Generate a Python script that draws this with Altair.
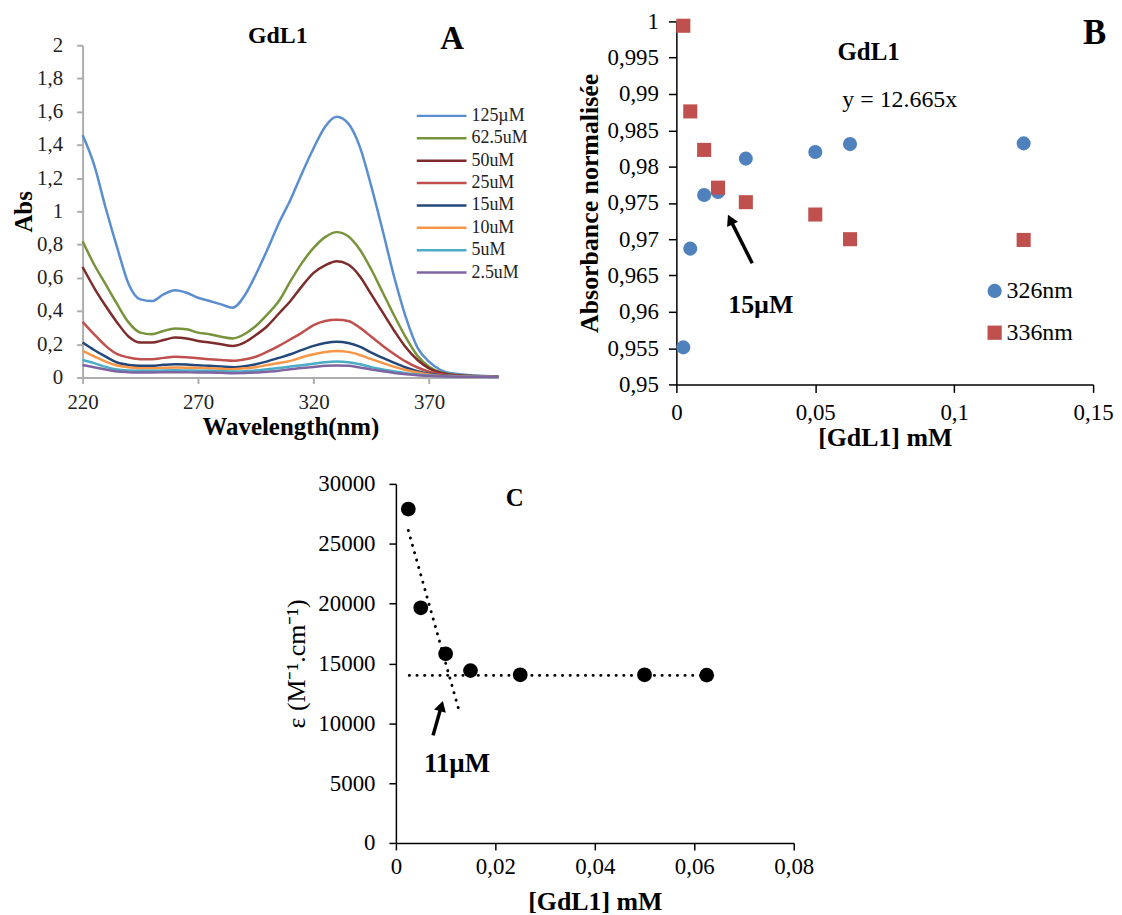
import altair as alt
import pandas as pd

SERIF = "Liberation Serif"

# ---------------- Panel A : UV spectra ----------------
wavelengths = [220, 225, 230, 235, 240, 245, 250, 255, 260, 265, 270, 275, 280, 285,
               290, 295, 300, 305, 310, 315, 320, 325, 330, 335, 340, 345, 350, 355,
               360, 365, 370, 375, 380, 390, 400]
abs_125 = [1.46, 1.28, 1.02, 0.78, 0.56, 0.47, 0.46, 0.50, 0.525, 0.51, 0.48, 0.46, 0.44, 0.42,
           0.49, 0.62, 0.77, 0.93, 1.07, 1.23, 1.38, 1.51, 1.57, 1.53, 1.39, 1.15, 0.88, 0.60,
           0.36, 0.18, 0.095, 0.045, 0.025, 0.012, 0.006]
abs_62_5 = [0.82, 0.68, 0.56, 0.44, 0.33, 0.27, 0.26, 0.28, 0.295, 0.29, 0.27, 0.26, 0.245, 0.235,
            0.26, 0.31, 0.38, 0.46, 0.58, 0.69, 0.78, 0.845, 0.875, 0.85, 0.77, 0.65, 0.51, 0.37,
            0.24, 0.13, 0.065, 0.032, 0.018, 0.009, 0.005]
abs_50 = [0.665, 0.54, 0.43, 0.33, 0.245, 0.21, 0.21, 0.225, 0.24, 0.235, 0.22, 0.21, 0.20, 0.19,
          0.21, 0.255, 0.31, 0.385, 0.46, 0.55, 0.63, 0.675, 0.70, 0.68, 0.61, 0.50, 0.39, 0.28,
          0.18, 0.105, 0.055, 0.028, 0.015, 0.008, 0.004]
abs_25 = [0.335, 0.26, 0.19, 0.14, 0.12, 0.11, 0.11, 0.118, 0.125, 0.122, 0.115, 0.11, 0.105, 0.10,
          0.108, 0.125, 0.155, 0.19, 0.23, 0.27, 0.315, 0.34, 0.347, 0.34, 0.30, 0.245, 0.19, 0.14,
          0.095, 0.06, 0.035, 0.02, 0.012, 0.006, 0.004]
abs_15 = [0.21, 0.165, 0.125, 0.09, 0.075, 0.07, 0.07, 0.076, 0.08, 0.078, 0.073, 0.07, 0.066, 0.062,
          0.068, 0.08, 0.097, 0.118, 0.14, 0.166, 0.19, 0.207, 0.215, 0.208, 0.186, 0.15, 0.118, 0.088,
          0.06, 0.038, 0.022, 0.013, 0.009, 0.005, 0.004]
abs_10 = [0.16, 0.127, 0.095, 0.072, 0.062, 0.056, 0.056, 0.058, 0.06, 0.059, 0.057, 0.055, 0.052, 0.05,
          0.055, 0.062, 0.075, 0.087, 0.10, 0.122, 0.14, 0.153, 0.16, 0.154, 0.135, 0.11, 0.086, 0.064,
          0.045, 0.03, 0.018, 0.011, 0.008, 0.005, 0.003]
abs_5 = [0.105, 0.086, 0.064, 0.048, 0.042, 0.04, 0.04, 0.042, 0.043, 0.042, 0.041, 0.04, 0.038, 0.036,
         0.038, 0.042, 0.05, 0.057, 0.066, 0.074, 0.083, 0.092, 0.096, 0.092, 0.08, 0.062, 0.048, 0.036,
         0.026, 0.018, 0.012, 0.008, 0.006, 0.004, 0.003]
abs_2_5 = [0.075, 0.062, 0.048, 0.036, 0.032, 0.03, 0.03, 0.031, 0.032, 0.031, 0.03, 0.03, 0.028, 0.026,
           0.027, 0.03, 0.035, 0.041, 0.05, 0.057, 0.063, 0.07, 0.072, 0.07, 0.06, 0.048, 0.037, 0.027,
           0.02, 0.014, 0.01, 0.007, 0.005, 0.004, 0.003]
series_labels = ["125µM", "62.5uM", "50uM", "25uM", "15uM", "10uM", "5uM", "2.5uM"]
series_colors = ["#5A8ED0", "#77933C", "#7D2B2B", "#C0504D", "#24477A", "#F79646", "#4BACC6", "#8064A2"]
a_x_ticks = [220, 270, 320, 370]
a_y_ticks = [0, 0.2, 0.4, 0.6, 0.8, 1.0, 1.2, 1.4, 1.6, 1.8, 2.0]
a_title_pos = (304.5, 2.054)
a_letter_pos = (380.0, 2.036)

# ---------------- Panel B : normalised absorbance ----------------
conc_B = [0.0025, 0.005, 0.01, 0.015, 0.025, 0.05, 0.0625, 0.125]
norm_326 = [0.9551, 0.9687, 0.9761, 0.9765, 0.9811, 0.9820, 0.9831, 0.9832]
norm_336 = [0.9994, 0.9876, 0.9823, 0.9771, 0.9751, 0.9734, 0.9700, 0.9699]
b_series = ["326nm", "336nm"]
b_colors = ["#4F81BD", "#C0504D"]
b_x_ticks = [0, 0.05, 0.1, 0.15]
b_y_ticks = [0.95, 0.955, 0.96, 0.965, 0.97, 0.975, 0.98, 0.985, 0.99, 0.995, 1.0]
b_title_pos = (0.0692, 0.9958)
b_eq_pos = (0.0804, 0.9892)
b_letter_pos = (0.1505, 0.99833)
b_note_pos = (0.0304, 0.9609)
b_arrow_tail = (0.0273, 0.9667)
b_arrow_head = (0.0194, 0.9727)

# ---------------- Panel C : epsilon ----------------
conc_C = [0.0025, 0.005, 0.01, 0.015, 0.025, 0.05, 0.0625]
eps_C = [27900, 19650, 15800, 14400, 14050, 14050, 14020]
fit_x1 = [0.0025, 0.0027]
fit_y1 = [26100, 14000]
fit_x2 = [0.0128, 0.0625]
fit_y2 = [10900, 14000]
c_x_ticks = [0, 0.02, 0.04, 0.06, 0.08]
c_y_ticks = [0, 5000, 10000, 15000, 20000, 25000, 30000]
c_letter_pos = (0.0239, 28840)
c_note_pos = (0.0123, 6580)
c_arrow_tail = (0.00747, 8986)
c_arrow_head = (0.00915, 11435)


def comma(fmt):
    return f"replace(format(datum.value, '{fmt}'), '.', ',')"


# ======================= Panel A =======================
rowsA = []
for lab, vals in zip(series_labels, [abs_125, abs_62_5, abs_50, abs_25, abs_15, abs_10, abs_5, abs_2_5]):
    for w, v in zip(wavelengths, vals):
        rowsA.append({"wl": w, "abs": v, "conc_label": lab})
dfA = pd.DataFrame(rowsA)

axA = dict(labelFont=SERIF, labelFontSize=21, labelColor="#222222", titleFont=SERIF,
           titleFontSize=25, titleFontWeight="bold", titleColor="#000000",
           domainColor="#ADADAD", domainWidth=2, tickColor="#ADADAD", tickWidth=2, tickSize=6,
           grid=False, labelFlush=False, labelOverlap=False)
xA = alt.X("wl:Q", scale=alt.Scale(domain=[220, 400], nice=False, zero=False),
           axis=alt.Axis(values=a_x_ticks, tickCount=len(a_x_ticks), title="Wavelength(nm)",
                         labelPadding=8, titlePadding=2, **axA))
yA = alt.Y("abs:Q", scale=alt.Scale(domain=[0, 2], range=[358, 24], nice=False),
           axis=alt.Axis(values=a_y_ticks, tickCount=len(a_y_ticks), title="Abs",
                         labelExpr=comma(".1~f"), labelPadding=14, titlePadding=0, **axA))

legA = alt.Legend(orient="none", legendX=352, legendY=86, title=None, symbolType="M-5,0L5,0",
                  symbolSize=100, symbolStrokeWidth=2.5, labelFont=SERIF, labelFontSize=18,
                  labelColor="#222222", labelOffset=21, rowPadding=4.5, padding=0)
linesA = alt.Chart(dfA).mark_line(strokeWidth=2.5, interpolate="monotone").encode(
    x=xA, y=yA,
    color=alt.Color("conc_label:N", scale=alt.Scale(domain=series_labels, range=series_colors), legend=legA),
)


def text_layer(pos, txt, xf, yf, size, weight="bold"):
    df = pd.DataFrame({xf: [pos[0]], yf: [pos[1]], "t": [txt]})
    return alt.Chart(df).mark_text(font=SERIF, fontSize=size, fontWeight=weight, color="black").encode(
        x=f"{xf}:Q", y=f"{yf}:Q", text="t:N")


def arrow_layers(tail, head, xf, yf, angle):
    df = pd.DataFrame({xf: [tail[0]], yf: [tail[1]], "x2": [head[0]], "y2": [head[1]]})
    rule = alt.Chart(df).mark_rule(strokeWidth=3.5, color="black").encode(
        x=f"{xf}:Q", y=f"{yf}:Q", x2="x2:Q", y2="y2:Q")
    dh = pd.DataFrame({xf: [head[0]], yf: [head[1]]})
    tip = alt.Chart(dh).mark_point(shape="triangle-up", filled=True, size=150, angle=angle,
                                   color="black", opacity=1).encode(x=f"{xf}:Q", y=f"{yf}:Q")
    return [rule, tip]


chartA = alt.layer(
    linesA,
    text_layer(a_title_pos, "GdL1", "wl", "abs", 24),
    text_layer(a_letter_pos, "A", "wl", "abs", 33),
).properties(width=418, height=358)

# ======================= Panel B =======================
dfB = pd.DataFrame({"conc": conc_B + conc_B, "norm": norm_326 + norm_336,
                    "band": [b_series[0]] * len(conc_B) + [b_series[1]] * len(conc_B)})
axB = dict(labelFont=SERIF, labelFontSize=23, labelColor="#000000", titleFont=SERIF,
           titleFontSize=26, titleFontWeight="bold", titleColor="#000000",
           domainColor="#000000", domainWidth=1.5, tickColor="#000000", tickWidth=1.5, tickSize=8,
           grid=False, labelFlush=False, labelOverlap=False)
xB = alt.X("conc:Q", scale=alt.Scale(domain=[0, 0.15], nice=False, zero=False),
           axis=alt.Axis(values=b_x_ticks, tickCount=len(b_x_ticks), title="[GdL1] mM",
                         labelExpr=comma(".2~f"), labelPadding=9, titlePadding=0, **axB))
yB = alt.Y("norm:Q", scale=alt.Scale(domain=[0.95, 1.0], nice=False, zero=False),
           axis=alt.Axis(values=b_y_ticks, tickCount=len(b_y_ticks), title="Absorbance normalisée",
                         labelExpr=comma(".3~f"), labelPadding=10, titlePadding=5, **axB))
legB = alt.Legend(orient="none", legendX=305, legendY=259, title=None, labelFont=SERIF, labelFontSize=24,
                  labelColor="#000000", labelOffset=0, symbolOffset=3, rowPadding=18, symbolSize=205,
                  symbolStrokeWidth=0, padding=0)
ptsB = alt.Chart(dfB).mark_point(filled=True, size=200, opacity=1).encode(
    x=xB, y=yB,
    color=alt.Color("band:N", scale=alt.Scale(domain=b_series, range=b_colors), legend=legB),
    shape=alt.Shape("band:N", scale=alt.Scale(domain=b_series, range=["circle", "square"]), legend=legB),
)

chartB = alt.layer(
    ptsB,
    text_layer(b_title_pos, "GdL1", "conc", "norm", 25),
    text_layer(b_eq_pos, "y = 12.665x", "conc", "norm", 24, "normal"),
    text_layer(b_letter_pos, "B", "conc", "norm", 35),
    text_layer(b_note_pos, "15µM", "conc", "norm", 26),
    *arrow_layers(b_arrow_tail, b_arrow_head, "conc", "norm", 334),
).properties(width=419, height=365)

# ======================= Panel C =======================
dfC = pd.DataFrame({"conc": conc_C, "eps": eps_C})
axC = dict(labelFont=SERIF, labelFontSize=23, labelColor="#000000", titleFont=SERIF,
           titleFontSize=26, titleColor="#000000",
           domainColor="#000000", domainWidth=1.5, tickColor="#000000", tickWidth=1.5, tickSize=7,
           grid=False, labelFlush=False, labelOverlap=False)
xC = alt.X("conc:Q", scale=alt.Scale(domain=[0, 0.08], range=[315, 715], nice=False, zero=False),
           axis=alt.Axis(values=c_x_ticks, tickCount=len(c_x_ticks), title="[GdL1] mM",
                         labelExpr=comma(".2~f"), labelPadding=6, titlePadding=10,
                         titleFontWeight="bold", **axC))
yC = alt.Y("eps:Q", scale=alt.Scale(domain=[0, 30000], nice=False),
           axis=alt.Axis(values=c_y_ticks, tickCount=len(c_y_ticks), title="ε (M⁻¹.cm⁻¹)", format="d",
                         labelPadding=14, titlePadding=8, titleFontWeight="normal", offset=-315, **axC))
dfFit = pd.DataFrame({"conc": fit_x1, "eps": fit_y1, "x2": fit_x2, "y2": fit_y2})
fitC = alt.Chart(dfFit).mark_rule(strokeDash=[0.1, 7.6], strokeCap="round", strokeWidth=3,
                                  color="black").encode(x=xC, y=yC, x2="x2:Q", y2="y2:Q")
ptsC = alt.Chart(dfC).mark_circle(size=220, color="black", opacity=1).encode(x="conc:Q", y="eps:Q")
chartC = alt.layer(
    fitC, ptsC,
    text_layer(c_letter_pos, "C", "conc", "eps", 25),
    text_layer(c_note_pos, "11µM", "conc", "eps", 27),
    *arrow_layers(c_arrow_tail, c_arrow_head, "conc", "eps", 16),
).properties(width=418, height=361)

chart = alt.concat(
    chartA, chartB, chartC, columns=2, spacing={"row": 100, "column": 179}, bounds="flush"
).resolve_scale(
    color="independent", shape="independent"
).resolve_legend(
    color="independent", shape="independent"
).properties(
    padding={"left": 3, "top": 0, "right": 0, "bottom": 0}
).configure_view(stroke=None).configure_axis(labelOverlap=False)

chart.save("out.html", embed_options={"renderer": "svg", "actions": False})
